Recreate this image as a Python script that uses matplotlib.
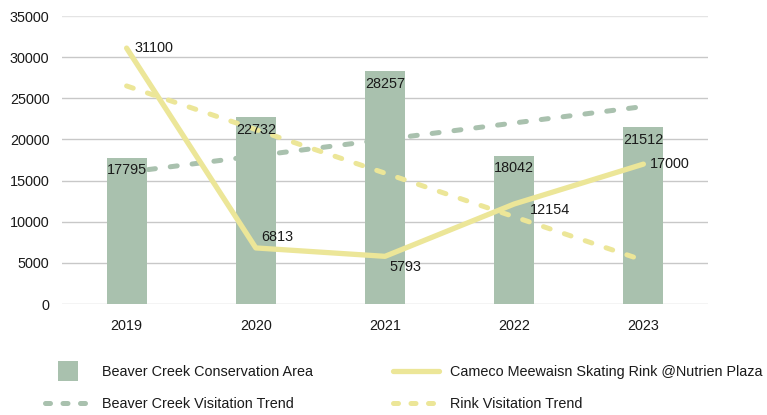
import matplotlib
matplotlib.use("Agg")
import matplotlib.pyplot as plt
from matplotlib.patches import Rectangle, Patch
from matplotlib.lines import Line2D
from matplotlib.legend_handler import HandlerPatch

plt.rcParams['font.family'] = ['Liberation Sans', 'DejaVu Sans']

years = ["2019", "2020", "2021", "2022", "2023"]
beaver_creek = [17795, 22732, 28257, 18042, 21512]
skating_rink = [31100, 6813, 5793, 12154, 17000]
beaver_trend = [16000, 18000, 20000, 22000, 24000]
rink_trend = [26500, 21200, 15900, 10600, 5300]

GREEN = "#a9c1ae"
YELLOW = "#ece698"
GRID = "#c8c8c8"
TEXT = "#1a1a1a"
FS = 10.4
DASH = (1.4, 3.0)

fig = plt.figure(figsize=(7.67, 4.15), dpi=100)
ax = fig.add_axes([62/767, 111/415, 646/767, 288/415])

x = list(range(len(years)))

ax.bar(x, beaver_creek, width=0.31, color=GREEN, zorder=2)
ax.plot(x, beaver_trend, color=GREEN, lw=3.6, dashes=DASH,
        dash_capstyle='round', zorder=3)
ax.plot(x, skating_rink, color=YELLOW, lw=3.8, solid_capstyle='round',
        solid_joinstyle='round', zorder=4)
ax.plot(x, rink_trend, color=YELLOW, lw=3.6, dashes=DASH,
        dash_capstyle='round', zorder=3)

for xi, v in zip(x, beaver_creek):
    ax.annotate(f"{v}", (xi, v), xytext=(0, -4), textcoords='offset points',
                ha='center', va='top', fontsize=FS, color=TEXT, zorder=6)

rink_offsets = [(6, 0), (4, 8), (3, -8), (11, -4), (5, 0)]
for xi, v, (dx, dy) in zip(x, skating_rink, rink_offsets):
    ax.annotate(f"{v}", (xi, v), xytext=(dx, dy), textcoords='offset points',
                ha='left', va='center', fontsize=FS, color=TEXT, zorder=6)

ax.set_xlim(-0.5, 4.5)
ax.set_ylim(0, 35000)
ax.set_yticks(range(0, 35001, 5000))
ax.set_xticks(x)
ax.set_xticklabels(years)
ax.grid(axis='y', color=GRID, lw=1, zorder=0)
ax.set_axisbelow(True)
for s in ax.spines.values():
    s.set_visible(False)
ax.tick_params(axis='both', length=0, labelsize=FS, labelcolor=TEXT)
ax.tick_params(axis='y', pad=9)
ax.tick_params(axis='x', pad=11)
ax.get_ygridlines()[-1].set_color("#e4e4e4")


def make_rect(legend, orig_handle, xdescent, ydescent, width, height, fontsize):
    w, h = 14.2, 14.2
    return Rectangle((-xdescent + (width - w) / 2, -ydescent + height / 2 - h / 2), w, h)


h_list = [Patch(facecolor=GREEN, edgecolor='none'),
          Line2D([], [], color=GREEN, lw=3.6, dashes=(1.0, 2.5), dash_capstyle='round'),
          Line2D([], [], color=YELLOW, lw=3.8, solid_capstyle='round'),
          Line2D([], [], color=YELLOW, lw=3.6, dashes=(1.0, 2.5), dash_capstyle='round')]
l_list = ["Beaver Creek Conservation Area", "Beaver Creek Visitation Trend",
          "Cameco Meewaisn Skating Rink @Nutrien Plaza", "Rink Visitation Trend"]

leg = fig.legend(h_list, l_list, ncol=2, loc='upper left',
                 bbox_to_anchor=(45/767, 1 - 365/415), frameon=False,
                 fontsize=FS, handlelength=3.2, handletextpad=0.75,
                 columnspacing=5.55, labelspacing=1.25, borderpad=0,
                 borderaxespad=0,
                 handler_map={Patch: HandlerPatch(patch_func=make_rect)})
for t in leg.get_texts():
    t.set_color(TEXT)

fig.savefig("out.png", dpi=100)
